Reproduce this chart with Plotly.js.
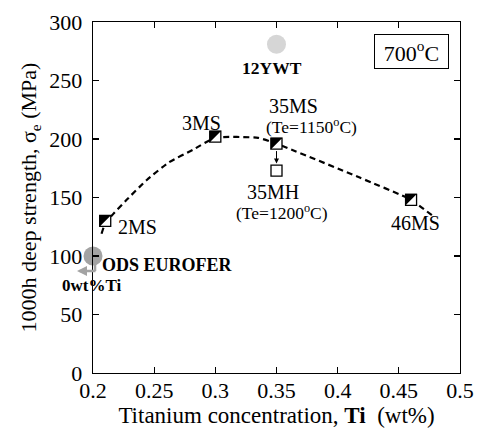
<!DOCTYPE html>
<html>
<head>
<meta charset="utf-8">
<script src="https://cdn.plot.ly/plotly-3.0.1.min.js"></script>
<style>html,body{margin:0;padding:0;background:#fff;}#chart{width:480px;height:428px;}</style>
</head>
<body>
<div id="chart"></div>
<script>
// ---- data ----
var alloyNames = ['2MS', '3MS', '35MS', '46MS'];
var alloyTi = [0.21, 0.30, 0.35, 0.46];
var alloyStrength = [130, 202, 196, 148];

var mhName = ['35MH'];
var mhTi = [0.35];
var mhStrength = [173];

var ywtTi = [0.35];
var ywtStrength = [281];

var odsTi = [0.20];
var odsStrength = [100];

var trendTi = [0.207, 0.21, 0.2166, 0.2275, 0.244, 0.262, 0.282, 0.30, 0.335, 0.35, 0.418, 0.46, 0.478];
var trendStrength = [119, 128, 136, 148, 165, 180, 191, 201, 201, 196, 167, 148, 134];

var xTickVals = [0.2, 0.25, 0.3, 0.35, 0.4, 0.45, 0.5];
var xTickText = ['0.2', '0.25', '0.3', '0.35', '0.4', '0.45', '0.5'];
var yTickVals = [0, 50, 100, 150, 200, 250, 300];

// ---- layout constants ----
var W = 480, H = 428;
var M = {l: 93, r: 20, t: 22, b: 55};
var xRange = [0.2, 0.5], yRange = [0, 300];
var plotW = W - M.l - M.r, plotH = H - M.t - M.b;
var pxPerX = plotW / (xRange[1] - xRange[0]);
var pxPerY = plotH / (yRange[1] - yRange[0]);

var SQ = 11;          // square marker size (px)
var HALF = 6;         // half side of the filled triangle (px, to the outer edge)

var FONT = 'Liberation Serif, Times New Roman, serif';

// upper-left black halves of the alloy squares, built from the data arrays
var halfShapes = alloyTi.map(function (xv, i) {
  var yv = alloyStrength[i];
  var dx = HALF / pxPerX, dy = HALF / pxPerY;
  return {
    type: 'path', xref: 'x', yref: 'y', layer: 'above',
    path: 'M' + (xv - dx) + ',' + (yv + dy) + ' L' + (xv + dx) + ',' + (yv + dy) +
          ' L' + (xv - dx) + ',' + (yv - dy) + ' Z',
    fillcolor: '#000', line: {width: 0}
  };
});

var traces = [
  {x: trendTi, y: trendStrength, mode: 'lines', type: 'scatter',
   line: {color: '#000', width: 2.2, dash: '6px,4px', shape: 'spline', smoothing: 0.5},
   hoverinfo: 'skip', cliponaxis: false},
  {x: ywtTi, y: ywtStrength, mode: 'markers', type: 'scatter',
   marker: {symbol: 'circle', size: 19, color: '#d6d6d6', line: {width: 0}}, cliponaxis: false},
  {x: odsTi, y: odsStrength, mode: 'markers', type: 'scatter',
   marker: {symbol: 'circle', size: 19, color: '#a3a3a3', line: {width: 0}}, cliponaxis: false},
  {x: alloyTi, y: alloyStrength, mode: 'markers', type: 'scatter', text: alloyNames,
   marker: {symbol: 'square', size: SQ, color: '#fff', line: {color: '#000', width: 1.3}}, cliponaxis: false},
  {x: mhTi, y: mhStrength, mode: 'markers', type: 'scatter', text: mhName,
   marker: {symbol: 'square', size: SQ, color: '#fff', line: {color: '#000', width: 1.3}}, cliponaxis: false}
];

function lab(text, x, y, size, opts) {
  var a = {text: text, x: x, y: y, xref: 'x', yref: 'y', showarrow: false,
    xanchor: 'center', yanchor: 'middle', font: {family: FONT, size: size, color: '#000'}};
  for (var k in opts) a[k] = opts[k];
  return a;
}

var annotations = [
  lab(alloyNames[0], 0.2188, 125, 20, {xanchor: 'left'}),
  lab(alloyNames[1], 0.2883, 213.5, 20),
  lab(alloyNames[2], 0.3639, 228.5, 20),
  lab('(Te=1150<sup>o</sup>C)', 0.3782, 211.5, 17.5),
  lab(mhName[0], 0.3471, 154.5, 20),
  lab('(Te=1200<sup>o</sup>C)', 0.3545, 137.5, 17.5),
  lab(alloyNames[3], 0.4639, 128, 20),
  lab('<b>12YWT</b>', 0.3467, 261, 17.5),
  lab('<b>ODS EUROFER</b>', 0.2057, 92.3, 18, {xanchor: 'left'}),
  lab('<b>0wt%Ti</b>', -0.0041, 0.2479, 17, {xref: 'paper', yref: 'paper'}),
  // arrow 35MS -> 35MH
  {x: 0.35, y: 179, xref: 'x', yref: 'y', showarrow: true, ax: 0, ay: -14,
   arrowhead: 2, arrowsize: 1, arrowwidth: 1, arrowcolor: '#000', text: ''},
  // grey arrow from ODS EUROFER toward 0 wt% Ti
  {x: 0.0055, y: 0.2906, xref: 'paper', yref: 'paper', showarrow: true, ax: 0, ay: -8,
   arrowhead: 0, arrowwidth: 2.5, arrowcolor: '#a3a3a3', text: ''},
  {x: -0.0436, y: 0.2906, xref: 'paper', yref: 'paper', showarrow: true, ax: 20, ay: 0,
   arrowhead: 2, arrowsize: 0.8, arrowwidth: 2.5, arrowcolor: '#a3a3a3', text: ''},
  // temperature box
  {text: '700<sup>o</sup>C', xref: 'paper', yref: 'paper', x: 0.8665, y: 0.916,
   xanchor: 'center', yanchor: 'middle', showarrow: false, width: 71, height: 31,
   bordercolor: '#000', borderwidth: 1, borderpad: 1, bgcolor: '#fff',
   font: {family: FONT, size: 22, color: '#000'}}
];

var axisCommon = {
  showline: true, linecolor: '#000', linewidth: 1.3, mirror: 'ticks',
  ticks: 'inside', ticklen: 6, tickwidth: 1.2, tickcolor: '#000',
  showgrid: false, zeroline: false,
  tickfont: {family: FONT, size: 22, color: '#000'}
};

var layout = {
  width: W, height: H,
  margin: M,
  paper_bgcolor: '#fff', plot_bgcolor: '#fff',
  showlegend: false,
  font: {family: FONT, color: '#000'},
  xaxis: Object.assign({}, axisCommon, {
    range: xRange, tickvals: xTickVals, ticktext: xTickText, ticklabelstandoff: -3,
    title: {text: 'Titanium concentration, <b>Ti</b>  (wt%)', font: {family: FONT, size: 23, color: '#000'}, standoff: 0}
  }),
  yaxis: Object.assign({}, axisCommon, {
    range: yRange, tickvals: yTickVals, ticklabelstandoff: 5,
    title: {text: '1000h deep strength, σ<sub>e</sub> (MPa)', font: {family: FONT, size: 22, color: '#000'}, standoff: 6}
  }),
  shapes: halfShapes,
  annotations: annotations
};

Plotly.newPlot('chart', traces, layout, {staticPlot: true, displayModeBar: false});
</script>
</body>
</html>
